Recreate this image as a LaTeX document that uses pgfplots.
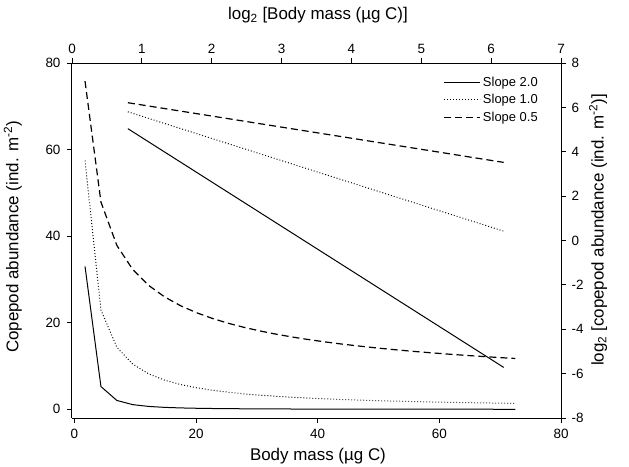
\documentclass[border=0pt]{standalone}
\usepackage{fontspec}
\setmainfont{Liberation Sans}
\usepackage{pgfplots}
\pgfplotsset{compat=1.18}
\begin{document}
\begin{tikzpicture}
\pgfplotsset{
  common/.style={
    scale only axis, width=489bp, height=355bp,
    at={(0,0)}, anchor=south west,
    tick align=outside, major tick length=5bp,
    tick style={line width=0.9bp, black},
    axis line style={line width=1bp, -},
    tick label style={font=\fontsize{13.5}{15}\selectfont},
    /pgf/number format/assume math mode=true,
    label style={font=\fontsize{17}{20}\selectfont},
    clip=false,
  },
  solidl/.style={black, line width=1bp},
  dotl/.style={black, line width=1bp, dash pattern=on 0.9bp off 2.1bp},
  dashl/.style={black, line width=1.2bp, dash pattern=on 7bp off 4bp},
}
\begin{axis}[common,
  xmin=-0.4, xmax=80, ymin=-2, ymax=80,
  axis x line*=bottom, axis y line*=left,
  xtick={0,20,40,60,80}, ytick={0,20,40,60,80},
  xticklabel style={yshift=-3bp},
  yticklabel style={xshift=-3bp},
  xlabel={Body mass (µg C)},
  ylabel={Copepod abundance (ind. m\textsuperscript{-2})},
  xlabel style={at={(axis description cs:0.503,-0.107)}, anchor=center},
  ylabel style={at={(axis description cs:-0.121,0.51)}, anchor=center},
]
\addplot[solidl] coordinates {(1.74,33.03)(4.36,5.26)(6.98,2.05)(9.60,1.085)(12.22,0.670)(14.84,0.454)(17.46,0.328)(20.08,0.248)(22.70,0.194)(25.32,0.156)(27.94,0.128)(30.56,0.107)(33.18,0.091)(35.80,0.078)(38.42,0.068)(41.04,0.059)(43.66,0.053)(46.28,0.047)(48.90,0.042)(51.52,0.038)(54.14,0.034)(56.76,0.031)(59.38,0.028)(62.00,0.026)(64.62,0.024)(67.24,0.022)(69.86,0.021)(72.48,0.019)};
\addplot[dotl] coordinates {(1.74,57.47)(4.36,22.94)(6.98,14.33)(9.60,10.42)(12.22,8.18)(14.84,6.74)(17.46,5.73)(20.08,4.98)(22.70,4.41)(25.32,3.95)(27.94,3.58)(30.56,3.27)(33.18,3.01)(35.80,2.79)(38.42,2.60)(41.04,2.44)(43.66,2.29)(46.28,2.16)(48.90,2.04)(51.52,1.94)(54.14,1.85)(56.76,1.76)(59.38,1.68)(62.00,1.61)(64.62,1.55)(67.24,1.49)(69.86,1.43)(72.48,1.38)};
\addplot[dashl] coordinates {(1.74,75.81)(4.36,47.89)(6.98,37.85)(9.60,32.27)(12.22,28.61)(14.84,25.96)(17.46,23.93)(20.08,22.32)(22.70,20.99)(25.32,19.87)(27.94,18.92)(30.56,18.09)(33.18,17.36)(35.80,16.71)(38.42,16.13)(41.04,15.61)(43.66,15.13)(46.28,14.70)(48.90,14.30)(51.52,13.93)(54.14,13.59)(56.76,13.27)(59.38,12.98)(62.00,12.70)(64.62,12.44)(67.24,12.20)(69.86,11.96)(72.48,11.75)};
\end{axis}
\begin{axis}[common,
  xmin=0, xmax=7, ymin=-8, ymax=8,
  axis x line*=top, axis y line*=right,
  xtick={0,1,2,3,4,5,6,7}, ytick={-8,-6,-4,-2,0,2,4,6,8},
  xticklabel style={yshift=1bp},
  yticklabel style={xshift=2bp},
  xlabel={log\textsubscript{2} [Body mass (µg C)]},
  ylabel={log\textsubscript{2} [copepod abundance (ind. m\textsuperscript{-2})]},
  xlabel style={at={(axis description cs:0.503,1.135)}, anchor=center},
  ylabel style={at={(axis description cs:1.076,0.53)}, anchor=center, rotate=0},
  legend style={at={(axis description cs:0.963,0.972)}, anchor=north east,
    draw=none, fill=none, font=\fontsize{13}{15}\selectfont, row sep=2.5bp},
  legend cell align=left,
  legend image code/.code={\draw[#1] (-6bp,0bp) -- (30bp,0bp);},
]
\addplot[solidl] coordinates {(0.8,5.04)(6.18,-5.72)};
\addlegendentry{Slope 2.0}
\addplot[dotl] coordinates {(0.8,5.80)(6.18,0.42)};
\addlegendentry{Slope 1.0}
\addplot[dashl] coordinates {(0.8,6.21)(6.18,3.52)};
\addlegendentry{Slope 0.5}
\end{axis}
\pgfresetboundingbox
\path[use as bounding box] (-72bp,-49bp) rectangle (557bp,418bp);
\end{tikzpicture}
\end{document}
